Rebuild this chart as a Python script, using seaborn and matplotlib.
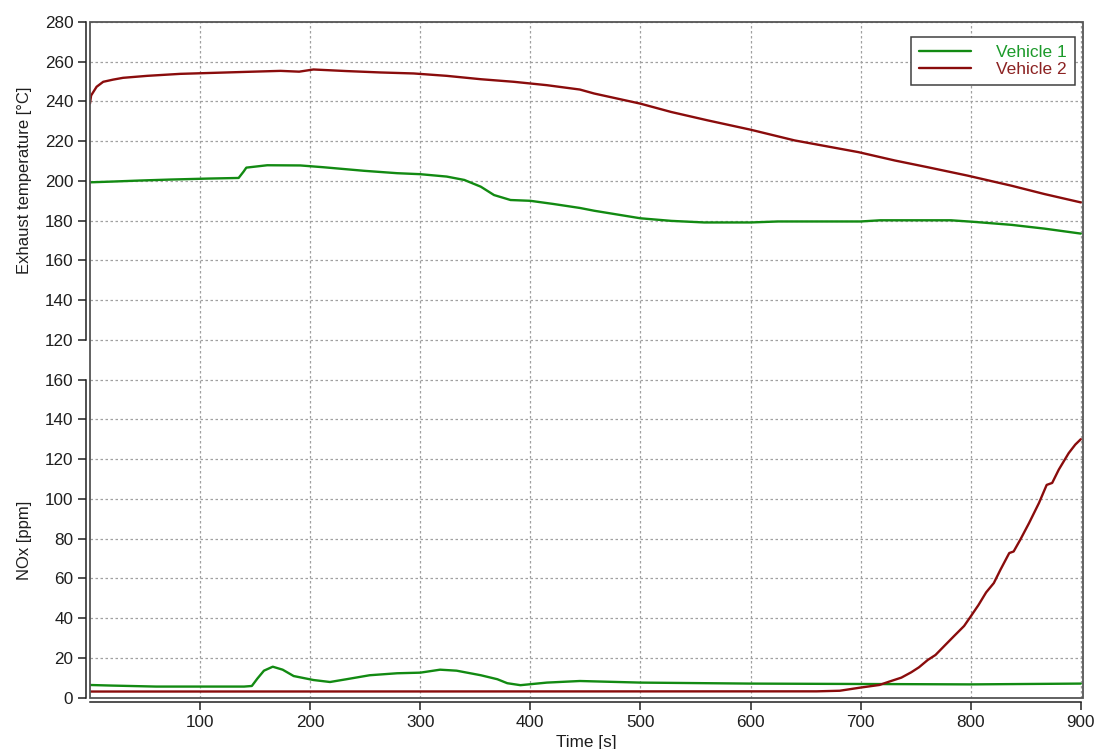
import matplotlib
matplotlib.use("Agg")
import matplotlib.pyplot as plt
import seaborn as sns
from matplotlib.patches import Rectangle
from matplotlib.lines import Line2D

# ---------------- data ----------------
series_names = ["Vehicle 1", "Vehicle 2"]

t_temp_v1 = [0, 21, 45, 73, 108, 135, 139.5, 142, 161, 191, 212, 249, 279, 300, 324,
             340, 355, 367, 382, 400, 421, 445, 458, 500, 528, 558, 600, 625, 700,
             718, 782, 803, 837, 867, 900]
temp_v1 = [199.3, 199.7, 200.2, 200.7, 201.2, 201.5, 204.7, 206.7, 207.9, 207.8, 206.9,
           205.1, 203.9, 203.4, 202.2, 200.5, 197.1, 192.9, 190.4, 190.0, 188.4, 186.4,
           185.0, 181.2, 179.9, 179.1, 179.1, 179.6, 179.6, 180.2, 180.2, 179.4, 177.9,
           176.0, 173.5]

t_temp_v2 = [0, 1, 6, 12, 21, 30, 52, 82, 112, 142, 173, 190, 203, 233, 264, 294, 324,
             355, 385, 415, 445, 458, 500, 528, 561, 600, 640, 698, 731, 761, 797, 837,
             867, 900]
temp_v2 = [239.0, 243.0, 247.4, 249.9, 251.0, 251.9, 252.9, 253.9, 254.4, 254.9, 255.4,
           255.0, 256.1, 255.3, 254.6, 254.1, 252.9, 251.2, 249.9, 248.2, 246.0, 244.0,
           238.9, 234.7, 230.5, 225.8, 220.4, 214.5, 210.3, 206.9, 202.7, 197.6, 193.4,
           189.2]

t_nox_v1 = [0, 20, 60, 100, 140, 147, 152, 158, 166, 175, 185, 203, 218, 233, 254, 279,
            300, 318, 333, 355, 370, 379, 391, 415, 445, 500, 600, 700, 800, 900]
nox_v1 = [6.3, 6.0, 5.5, 5.5, 5.5, 5.8, 9.5, 13.5, 15.5, 14.0, 10.8, 8.8, 7.8, 9.2, 11.2,
          12.2, 12.5, 14.0, 13.5, 11.2, 9.2, 7.2, 6.2, 7.5, 8.3, 7.5, 7.0, 6.8, 6.6, 7.0]

t_nox_v2 = [0, 660, 681, 700, 717, 726, 737, 746, 753, 761, 768, 777, 785, 794, 800, 807,
            814, 821, 827, 835, 839, 845, 853, 862, 869, 874, 880, 889, 895, 900]
nox_v2 = [3.0, 3.1, 3.4, 5.0, 6.3, 8.0, 10.0, 12.7, 15.2, 18.9, 21.4, 26.5, 31.0, 36.0,
          40.8, 46.5, 52.9, 57.6, 64.3, 72.7, 73.5, 79.4, 87.8, 97.9, 107.0, 108.0, 114.7,
          123.0, 127.3, 130.0]

x_ticks = [100, 200, 300, 400, 500, 600, 700, 800, 900]
temp_ticks = [120, 140, 160, 180, 200, 220, 240, 260, 280]
nox_ticks = [0, 20, 40, 60, 80, 100, 120, 140, 160]

# ---------------- style ----------------
GREEN = "#128a12"
RED = "#8a0c0c"
GREEN_TXT = "#1c9a2a"
RED_TXT = "#8c2222"
GRID = "#a0a0a0"
TXT = "#1e1e1e"

sns.set_theme(style="ticks")
plt.rcParams["font.family"] = ["Liberation Sans", "DejaVu Sans"]

fig = plt.figure(figsize=(10.94, 7.49), dpi=100)
L, R, T, B = 90 / 1094, 1083 / 1094, 22 / 749, 697.5 / 749
ax = fig.add_axes([L, 1 - B, R - L, B - T])
ax2 = ax.twinx()

# NOx on bottom portion (0..160 of a 0..340 range)
sns.lineplot(x=t_nox_v1, y=nox_v1, ax=ax, color=GREEN, lw=1.7, legend=False)
sns.lineplot(x=t_nox_v2, y=nox_v2, ax=ax, color=RED, lw=1.7, legend=False)
# temperature on top portion (120..280)
sns.lineplot(x=t_temp_v1, y=temp_v1, ax=ax2, color=GREEN, lw=1.7, legend=False)
sns.lineplot(x=t_temp_v2, y=temp_v2, ax=ax2, color=RED, lw=1.7, legend=False)

ax.set_xlim(0, 902)
ax.set_ylim(0, 340)
ax2.set_ylim(-60, 280)

ax.set_xticks(x_ticks)
ax.set_xticklabels([str(v) for v in x_ticks])
ax.set_yticks(nox_ticks)
ax.set_yticklabels([str(v) for v in nox_ticks])
ax2.set_yticks(temp_ticks)
ax2.set_yticklabels([str(v) for v in temp_ticks])
ax2.yaxis.tick_left()
ax2.yaxis.set_label_position("left")

for a in (ax, ax2):
    for s in ("top", "right"):
        a.spines[s].set_visible(False)
ax2.spines["bottom"].set_visible(False)
ax2.spines["left"].set_visible(True)

ax.spines["left"].set_bounds(0, 160)
ax.spines["left"].set_position(("outward", 3))
ax.spines["bottom"].set_bounds(0, 900)
ax.spines["bottom"].set_position(("outward", 3.5))
ax2.spines["left"].set_bounds(120, 280)
ax2.spines["left"].set_position(("outward", 3))
for a in (ax, ax2):
    for s in ("left", "bottom"):
        a.spines[s].set_color("#202020")
        a.spines[s].set_linewidth(1.1)

ax.tick_params(axis="both", direction="out", length=6, width=1.1, labelsize=12.3,
               pad=3, colors="#202020", labelcolor=TXT)
ax2.tick_params(axis="y", direction="out", length=6, width=1.1, labelsize=12.3,
                pad=3, colors="#202020", labelcolor=TXT, left=True, right=False,
                labelleft=True, labelright=False)

ax.grid(True, axis="both", linestyle=(0, (2, 2)), color=GRID, lw=0.9)
ax2.grid(True, axis="y", linestyle=(0, (2, 2)), color=GRID, lw=0.9)
ax.set_axisbelow(True)

# frame
ax2.add_patch(Rectangle((0, 0), 1, 1, transform=ax.transAxes, fill=False,
                        edgecolor="#555555", lw=1.3, clip_on=False, zorder=5))

ax.set_xlabel("Time [s]", fontsize=12.3, color=TXT, labelpad=4)
ax.set_ylabel("NOx [ppm]", fontsize=12, color=TXT)
ax2.set_ylabel("Exhaust temperature [°C]", fontsize=12, color=TXT)
ax.yaxis.set_label_coords(-0.058, 0.233)
ax2.yaxis.set_label_coords(-0.058, 0.765)

handles = [Line2D([], [], color=GREEN, lw=1.7), Line2D([], [], color=RED, lw=1.7)]
leg = ax2.legend(handles, series_names, loc="upper right", bbox_to_anchor=(0.992, 0.978),
                 borderaxespad=0, frameon=True, fancybox=False, edgecolor="#404040",
                 fontsize=12.5, handlelength=3.0, labelcolor=[GREEN_TXT, RED_TXT],
                 borderpad=0.45, labelspacing=0.1, handletextpad=1.45)
leg.get_frame().set_linewidth(1.1)
leg.get_frame().set_alpha(1)

fig.savefig("out.png", dpi=100)
